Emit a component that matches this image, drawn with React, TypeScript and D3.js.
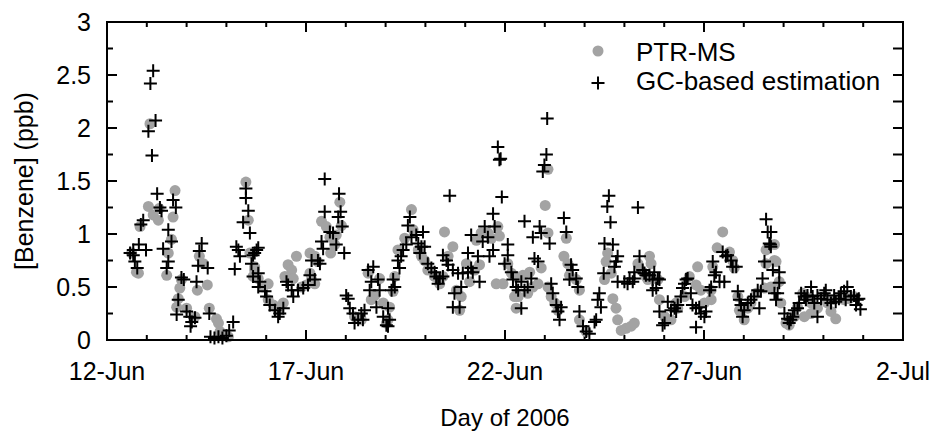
import * as d3 from "d3";

// Benzene mixing ratio, PTR-MS vs GC-based estimation, 12 Jun - 2 Jul 2006.
// x values are day of June (32 = 2 Jul).
const xTickDays = [12, 17, 22, 27, 32];
const xTickLabels = ["12-Jun", "17-Jun", "22-Jun", "27-Jun", "2-Jul"];
const yTicks = [0, 0.5, 1, 1.5, 2, 2.5, 3];

const ptrms: [number, number][] = [
  [12.62, 0.82], [12.74, 0.64], [12.79, 0.63], [12.83, 1.07], [13.04, 1.26], [13.08, 2.04], [13.16, 1.18],
  [13.29, 1.13], [13.31, 1.24], [13.5, 0.61], [13.54, 0.82], [13.62, 0.95], [13.66, 1.16], [13.71, 1.41],
  [13.75, 0.31], [13.79, 0.39], [13.83, 0.49], [13.87, 0.57], [14.0, 0.3], [14.21, 0.22], [14.27, 0.47],
  [14.32, 0.79], [14.42, 0.72], [14.52, 0.52], [14.57, 0.3], [14.75, 0.2], [14.8, 0.16], [14.84, 0.08],
  [14.95, 0.04], [15.05, 0.03], [15.49, 1.49], [15.55, 1.13], [15.59, 0.82], [15.67, 0.6], [15.71, 0.66],
  [15.71, 0.69], [15.8, 0.58], [15.92, 0.5], [16.05, 0.53], [16.05, 0.38], [16.18, 0.33], [16.3, 0.28],
  [16.43, 0.35], [16.47, 0.6], [16.55, 0.71], [16.64, 0.66], [16.76, 0.79], [16.68, 0.58], [16.89, 0.5],
  [17.01, 0.52], [17.14, 0.57], [17.22, 0.53], [17.1, 0.63], [17.1, 0.82], [17.22, 0.79], [17.29, 0.74],
  [17.62, 0.82], [17.72, 0.9], [17.6, 0.97], [17.39, 1.12], [17.51, 1.07], [17.76, 0.99], [17.89, 1.08],
  [17.85, 1.3], [18.22, 0.22], [18.39, 0.19], [18.56, 0.63], [18.73, 0.42], [18.64, 0.38], [18.85, 0.58],
  [18.94, 0.35], [19.02, 0.16], [19.06, 0.19], [19.1, 0.31], [19.19, 0.46], [19.23, 0.6], [19.31, 0.85],
  [19.48, 0.96], [19.65, 1.23], [19.69, 1.04], [19.82, 0.85], [19.9, 0.79], [19.98, 0.75], [20.06, 0.66],
  [20.23, 0.6], [20.36, 0.53], [20.44, 0.6], [20.48, 1.02], [20.69, 0.88], [20.57, 0.79], [20.78, 0.47],
  [20.86, 0.28], [20.9, 0.41], [21.03, 0.72], [21.11, 0.55], [21.24, 0.66], [21.36, 0.71], [21.28, 0.94],
  [21.4, 1.01], [21.57, 1.01], [21.66, 0.96], [21.86, 0.98], [21.82, 1.07], [21.78, 0.53], [21.95, 0.53],
  [22.07, 0.72], [22.16, 0.63], [22.24, 0.41], [22.28, 0.3], [22.28, 0.6], [22.45, 0.61], [22.62, 0.64],
  [22.7, 0.5], [22.83, 0.53], [22.33, 0.41], [22.57, 0.44], [22.91, 0.68], [23.01, 1.27], [23.08, 1.61],
  [23.08, 1.01], [23.08, 0.5], [23.16, 0.41], [23.25, 0.35], [23.33, 0.28], [23.54, 0.96], [23.48, 0.79],
  [23.58, 0.72], [23.62, 0.61], [23.79, 0.57], [23.87, 0.47], [23.87, 0.19], [24.04, 0.08], [24.58, 0.82],
  [24.54, 0.74], [24.5, 0.57], [24.67, 0.63], [24.71, 0.39], [24.79, 0.3], [24.83, 0.19], [24.92, 0.09],
  [25.04, 0.11], [25.17, 0.13], [25.25, 0.16], [25.34, 0.72], [25.42, 0.66], [25.54, 0.6], [25.63, 0.79],
  [25.67, 0.72], [25.59, 0.57], [25.84, 0.57], [25.88, 0.38], [26.01, 0.22], [26.17, 0.19], [26.34, 0.3],
  [26.3, 0.35], [26.51, 0.41], [26.63, 0.6], [26.8, 0.52], [26.84, 0.69], [26.92, 0.47], [27.01, 0.35],
  [27.18, 0.38], [27.18, 0.47], [27.33, 0.87], [27.47, 1.02], [27.64, 0.83], [27.72, 0.75], [27.76, 0.68],
  [27.22, 0.69], [27.85, 0.41], [28.01, 0.19], [27.89, 0.28], [28.1, 0.3], [28.18, 0.35], [28.31, 0.44],
  [28.52, 0.49], [28.68, 0.5], [28.56, 0.85], [28.77, 0.75], [28.56, 0.72], [28.77, 0.9], [28.81, 0.74],
  [28.89, 0.55], [28.93, 0.35], [29.06, 0.16], [29.14, 0.14], [29.27, 0.22], [29.35, 0.31], [29.52, 0.22],
  [29.56, 0.41], [29.48, 0.44], [29.69, 0.35], [29.69, 0.25], [29.85, 0.3], [30.02, 0.41], [30.1, 0.35],
  [30.19, 0.27], [30.31, 0.2], [30.23, 0.38], [30.44, 0.39], [30.52, 0.38], [30.65, 0.39], [30.77, 0.41],
];

const gcEst: [number, number][] = [
  [12.58, 0.82], [12.66, 0.85], [12.8, 0.9], [12.98, 0.85], [12.66, 0.8], [12.7, 0.74], [12.76, 0.68],
  [12.85, 1.09], [12.91, 1.13], [13.04, 1.97], [13.09, 2.42], [13.13, 1.74], [13.16, 2.54], [13.22, 2.07],
  [13.26, 1.38], [13.33, 1.25], [13.37, 1.22], [13.41, 0.86], [13.5, 0.68], [13.54, 1.04], [13.54, 0.74],
  [13.62, 0.93], [13.66, 1.32], [13.73, 1.25], [13.75, 0.24], [13.79, 0.38], [13.87, 0.59], [13.93, 0.57],
  [14.0, 0.27], [14.08, 0.22], [14.1, 0.13], [14.13, 0.17], [14.21, 0.21], [14.25, 0.55], [14.29, 0.7],
  [14.32, 0.84], [14.38, 0.91], [14.53, 0.68], [14.57, 0.25], [14.6, 0.03], [14.7, 0.02], [14.8, 0.03],
  [14.9, 0.02], [15.0, 0.04], [15.07, 0.09], [15.17, 0.17], [15.21, 0.67], [15.25, 0.88], [15.3, 0.85],
  [15.34, 0.79], [15.42, 1.11], [15.49, 1.43], [15.49, 1.34], [15.55, 1.22], [15.59, 1.01], [15.63, 0.72],
  [15.67, 0.8], [15.76, 0.85], [15.67, 0.6], [15.8, 0.5], [15.8, 0.87], [15.71, 0.82], [15.8, 0.63],
  [15.84, 0.55], [15.97, 0.46], [16.01, 0.41], [16.09, 0.33], [16.22, 0.28], [16.34, 0.25], [16.3, 0.22],
  [16.43, 0.3], [16.51, 0.55], [16.55, 0.52], [16.64, 0.47], [16.68, 0.41], [16.8, 0.47], [16.93, 0.49],
  [17.05, 0.52], [17.1, 0.61], [17.22, 0.57], [17.14, 0.75], [17.3, 0.75], [17.35, 0.72], [17.39, 0.93],
  [17.43, 0.86], [17.6, 1.02], [17.68, 1.01], [17.76, 0.9], [17.96, 0.82], [17.47, 1.21], [17.81, 1.16],
  [17.87, 1.21], [17.91, 1.07], [17.47, 1.52], [17.83, 1.38], [18.01, 0.42], [18.06, 0.39], [18.1, 0.3],
  [18.18, 0.25], [18.22, 0.16], [18.31, 0.19], [18.39, 0.25], [18.43, 0.19], [18.47, 0.28], [18.56, 0.66],
  [18.69, 0.69], [18.64, 0.55], [18.6, 0.47], [18.81, 0.57], [18.85, 0.47], [18.77, 0.31], [18.94, 0.22],
  [19.02, 0.14], [19.06, 0.3], [19.1, 0.19], [19.06, 0.13], [19.19, 0.57], [19.23, 0.5], [19.15, 0.47],
  [19.31, 0.75], [19.39, 0.79], [19.35, 0.68], [19.44, 0.85], [19.52, 0.9], [19.61, 1.16], [19.56, 1.08],
  [19.65, 0.97], [19.77, 0.99], [19.82, 0.91], [19.94, 1.02], [19.9, 0.88], [19.98, 0.88], [19.86, 0.82],
  [20.06, 0.72], [20.15, 0.68], [20.23, 0.64], [20.27, 0.6], [20.36, 0.58], [20.32, 0.53], [20.44, 0.6],
  [20.61, 1.36], [20.44, 0.8], [20.53, 0.75], [20.57, 0.71], [20.69, 0.66], [20.82, 0.63], [20.73, 0.44],
  [20.69, 0.31], [20.86, 0.31], [20.9, 0.5], [20.94, 0.63], [21.07, 0.64], [21.15, 0.68], [21.19, 0.64],
  [21.07, 0.82], [21.15, 0.99], [21.36, 0.55], [21.32, 0.79], [21.44, 0.93], [21.49, 1.07], [21.57, 0.97],
  [21.61, 0.79], [21.7, 0.85], [21.74, 1.07], [21.7, 1.19], [21.82, 1.82], [21.89, 1.71], [21.86, 1.7],
  [21.92, 1.35], [22.07, 0.9], [22.07, 0.8], [21.99, 0.72], [22.16, 0.64], [22.2, 0.57], [22.28, 0.5],
  [22.41, 0.55], [22.33, 0.47], [22.49, 0.47], [22.66, 0.58], [22.57, 0.5], [22.41, 0.3], [22.49, 1.12],
  [22.7, 0.97], [22.87, 1.07], [22.91, 1.01], [23.12, 0.91], [22.74, 0.77], [22.83, 0.74], [23.06, 2.09],
  [23.04, 1.75], [22.99, 1.65], [22.95, 1.59], [23.16, 0.53], [23.2, 0.44], [23.29, 0.33], [23.33, 0.27],
  [23.41, 0.31], [23.37, 0.19], [23.48, 1.15], [23.54, 1.02], [23.66, 0.71], [23.7, 0.66], [23.62, 0.57],
  [23.79, 0.58], [23.83, 0.5], [23.87, 0.27], [23.96, 0.13], [24.04, 0.08], [24.12, 0.06], [24.25, 0.17],
  [24.29, 0.19], [24.37, 0.44], [24.33, 0.38], [24.41, 0.31], [24.61, 1.36], [24.57, 1.26], [24.65, 1.11],
  [24.5, 0.91], [24.71, 0.9], [24.48, 0.63], [24.75, 0.69], [24.83, 0.79], [24.79, 0.74], [24.83, 0.55],
  [25.0, 0.55], [25.08, 0.53], [25.21, 0.55], [25.13, 0.58], [25.25, 0.58], [25.34, 1.25], [25.38, 0.79],
  [25.46, 0.66], [25.54, 0.61], [25.25, 0.64], [25.5, 0.63], [25.63, 0.61], [25.71, 0.57], [25.75, 0.64],
  [25.84, 0.58], [25.71, 0.47], [25.8, 0.49], [25.88, 0.57], [26.09, 0.36], [25.88, 0.27], [25.96, 0.14],
  [26.01, 0.16], [26.17, 0.28], [26.26, 0.3], [26.34, 0.33], [26.3, 0.27], [26.42, 0.41], [26.46, 0.49],
  [26.51, 0.53], [26.59, 0.58], [26.55, 0.57], [26.67, 0.44], [26.71, 0.33], [26.8, 0.3], [26.88, 0.31],
  [26.92, 0.25], [27.05, 0.27], [27.01, 0.22], [26.8, 0.12], [27.14, 0.47], [27.18, 0.5], [27.26, 0.61],
  [27.22, 0.74], [27.3, 0.64], [27.39, 0.55], [27.51, 0.55], [27.47, 0.83], [27.55, 0.79], [27.59, 0.8],
  [27.68, 0.75], [27.72, 0.69], [27.81, 0.69], [27.85, 0.46], [27.89, 0.38], [27.93, 0.33], [28.01, 0.28],
  [27.97, 0.22], [28.1, 0.35], [28.18, 0.38], [28.26, 0.41], [28.35, 0.47], [28.39, 0.3], [28.43, 0.46],
  [28.47, 0.58], [28.52, 0.74], [28.64, 0.91], [28.67, 0.9], [28.56, 1.14], [28.68, 1.02], [28.6, 1.02],
  [28.68, 0.88], [28.73, 0.66], [28.77, 0.44], [28.81, 0.38], [28.89, 0.64], [28.89, 0.54], [28.85, 0.44],
  [29.02, 0.25], [29.1, 0.2], [29.18, 0.19], [29.23, 0.22], [29.14, 0.16], [29.27, 0.28], [29.35, 0.3],
  [29.39, 0.35], [29.44, 0.44], [29.52, 0.41], [29.56, 0.38], [29.69, 0.5], [29.6, 0.42], [29.73, 0.41],
  [29.77, 0.35], [29.85, 0.22], [29.85, 0.42], [29.94, 0.39], [30.02, 0.44], [30.06, 0.47], [30.1, 0.38],
  [30.19, 0.35], [30.27, 0.42], [30.31, 0.36], [30.39, 0.39], [30.44, 0.44], [30.52, 0.46], [30.6, 0.5],
  [30.56, 0.38], [30.69, 0.41], [30.77, 0.42], [30.85, 0.38], [30.89, 0.39], [30.82, 0.33], [30.93, 0.29],
];

const W = 933;
const H = 432;
const L = 107;
const R = 903;
const T = 22;
const B = 340;
const FONT = "'Liberation Sans', Arial, sans-serif";

const x = d3.scaleLinear().domain([12, 32]).range([L, R]);
const y = d3.scaleLinear().domain([0, 3]).range([B, T]);
const xMinor = d3.range(12, 33, 1);
const yMinor = d3.range(0, 3.001, 0.25);

function Plus({ cx, cy }: { cx: number; cy: number }) {
  const s = 6.5;
  return <path d={`M${cx - s},${cy}H${cx + s}M${cx},${cy - s}V${cy + s}`} stroke="#000" strokeWidth={2} fill="none" />;
}

export default function App() {
  return (
    <svg width={W} height={H} style={{ position: "absolute", left: 0, top: 0, background: "#fff" }} fontFamily={FONT}>
      {/* ticks, all pointing inwards */}
      {xMinor.map((d) => {
        const major = (d - 12) % 5 === 0;
        const len = major ? 10 : 5;
        return (
          <g key={`xt${d}`} stroke="#000" strokeWidth={2}>
            <line x1={x(d)} x2={x(d)} y1={B} y2={B - len} />
            <line x1={x(d)} x2={x(d)} y1={T} y2={T + len} />
          </g>
        );
      })}
      {yMinor.map((v) => {
        const major = Math.abs(v * 2 - Math.round(v * 2)) < 1e-6;
        return (
          <g key={`yt${v}`} stroke="#000" strokeWidth={2}>
            <line x1={L} x2={L + (major ? 10 : 6)} y1={y(v)} y2={y(v)} />
            <line x1={R} x2={R - 10} y1={y(v)} y2={y(v)} />
          </g>
        );
      })}

      {/* PTR-MS circles */}
      {ptrms.map(([d, v], i) => (
        <circle key={`p${i}`} cx={x(d)} cy={y(v)} r={5.5} fill="#a3a3a3" />
      ))}
      {/* GC-based pluses */}
      {gcEst.map(([d, v], i) => (
        <Plus key={`g${i}`} cx={x(d)} cy={y(v)} />
      ))}

      <rect x={L} y={T} width={R - L} height={B - T} fill="none" stroke="#000" strokeWidth={2} />

      {/* tick labels */}
      {yTicks.map((v) => (
        <text key={`yl${v}`} x={L - 16} y={y(v) + 9} textAnchor="end" fontSize={25} fill="#000">
          {v}
        </text>
      ))}
      {xTickDays.map((d, i) => (
        <text key={`xl${d}`} x={x(d)} y={380} textAnchor="middle" fontSize={25} fill="#000">
          {xTickLabels[i]}
        </text>
      ))}

      {/* axis titles */}
      <text x={(L + R) / 2} y={426} textAnchor="middle" fontSize={24} fill="#000">
        Day of 2006
      </text>
      <text transform={`translate(33,${(T + B) / 2}) rotate(-90)`} textAnchor="middle" fontSize={25} fill="#000">
        [Benzene] (ppb)
      </text>

      {/* legend */}
      <circle cx={598} cy={51} r={5.5} fill="#a3a3a3" />
      <text x={636} y={61} fontSize={26} fill="#000">PTR-MS</text>
      <Plus cx={598} cy={83} />
      <text x={636} y={90} fontSize={26} fill="#000">GC-based estimation</text>
    </svg>
  );
}
